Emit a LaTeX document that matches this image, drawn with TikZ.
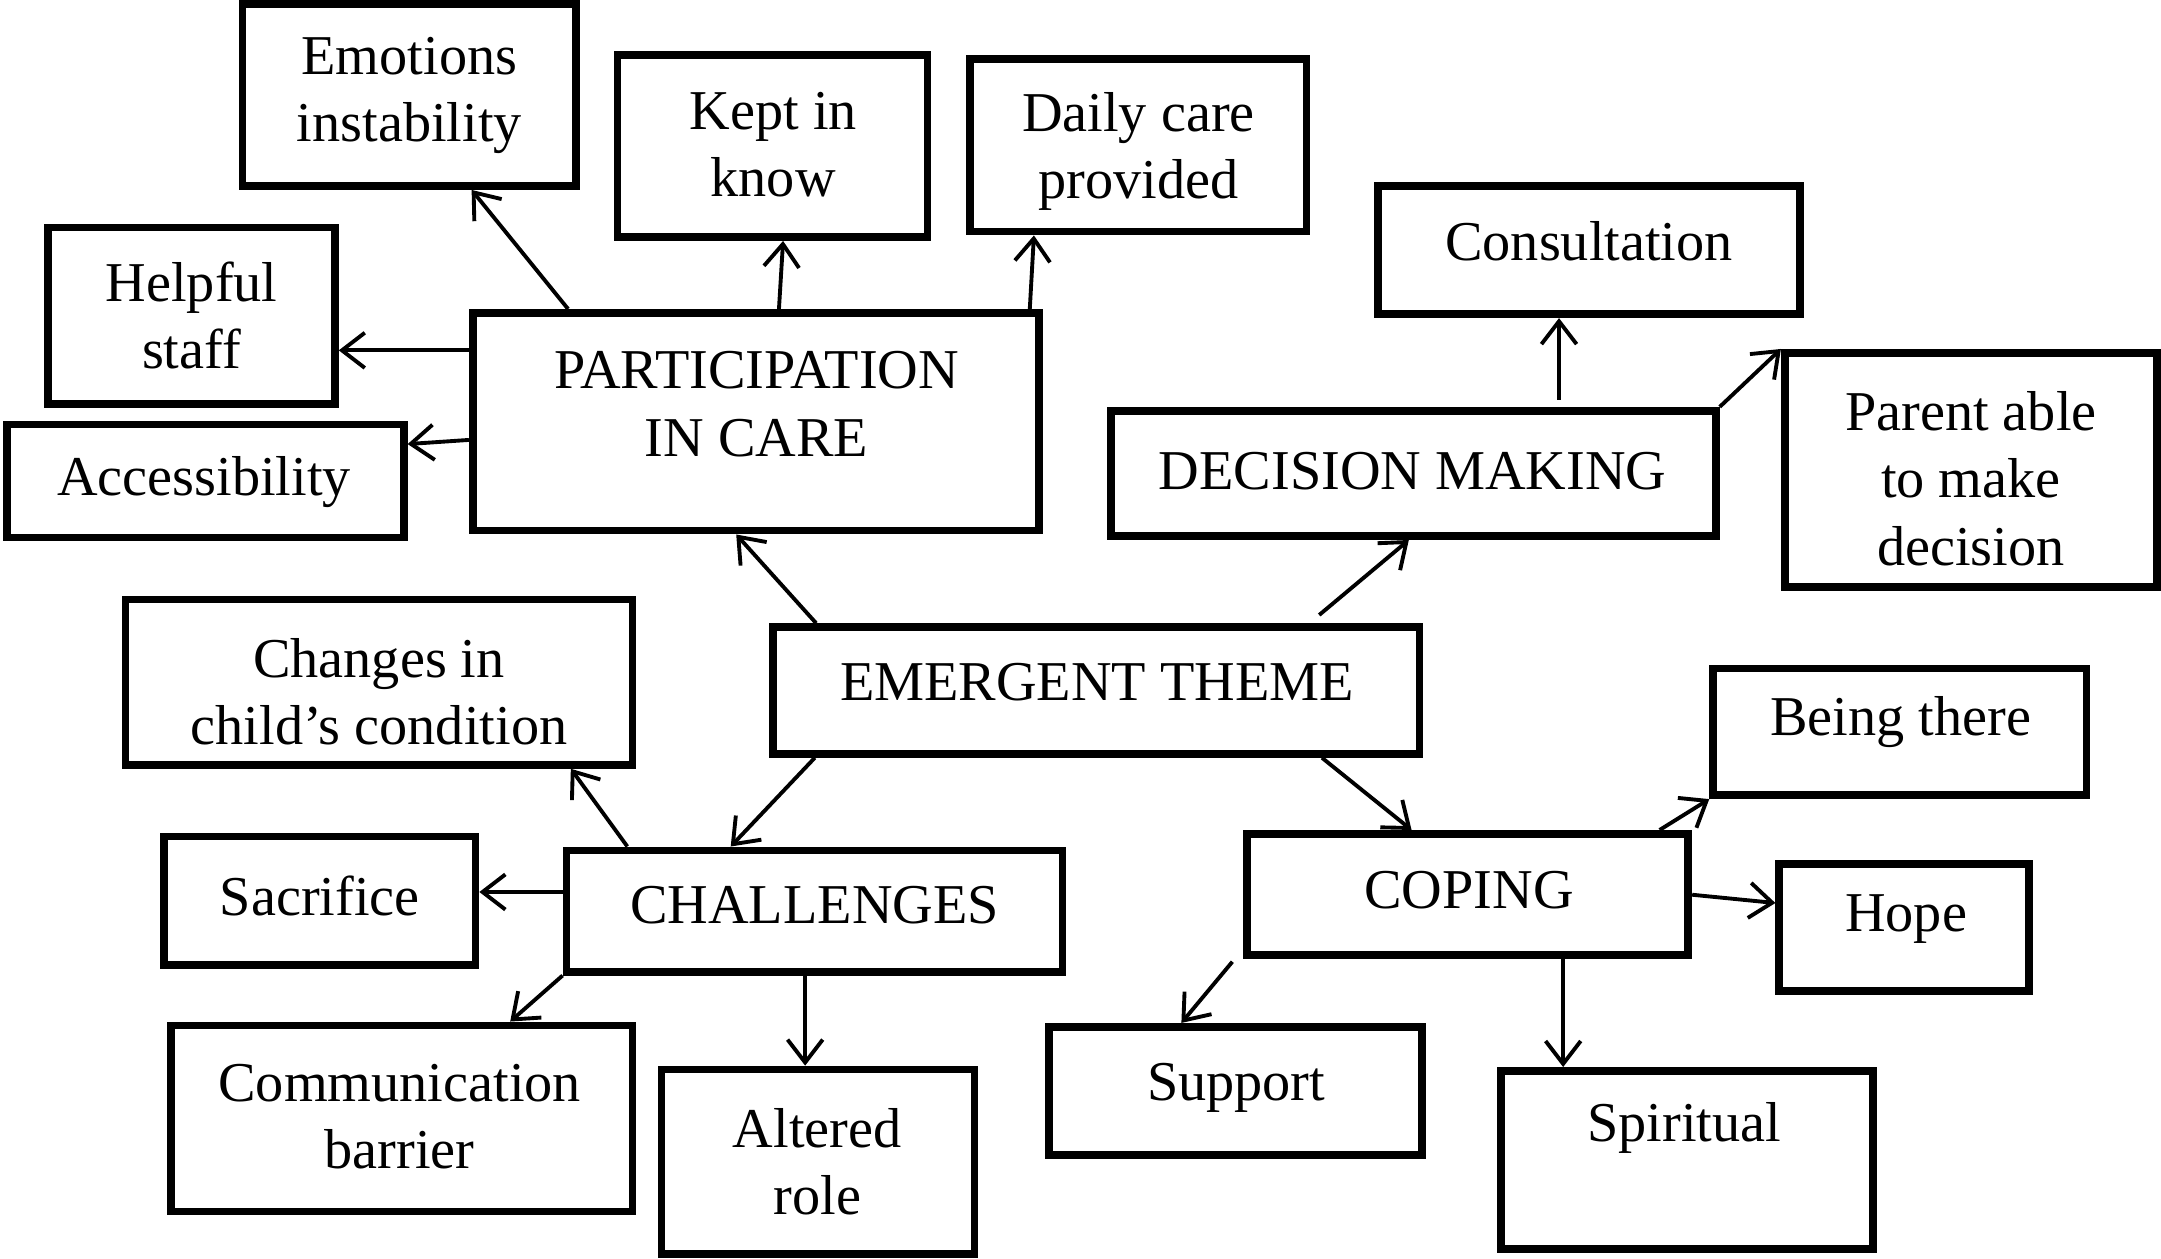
\documentclass[tikz,border=0pt]{standalone}
\usepackage{fontspec}
\setmainfont{Liberation Serif}
\usetikzlibrary{arrows.meta,fit,calc}
\newcommand\mybox[8]{\node[box, fit={(#2,#3) (#4,#5)}] (#1) {};\node[lbl] (t#1) at (#6,#7) {#8};}
\begin{document}
\begin{tikzpicture}[x=0.01378cm,y=-0.01378cm,
 box/.style={draw, line width=2.2pt, inner sep=0pt},
 lbl/.style={font=\fontsize{16}{19.2}\selectfont, align=center, inner sep=0pt, yshift=-1.2pt},
 arr/.style={line width=1.1pt, -{Straight Barb[length=6.5pt,width=10pt,line width=1.1pt]}}]
\useasboundingbox (0,0) rectangle (1568,913);

\mybox{emo}{176}{3}{418}{135}{297}{66}{Emotions\\instability}
\mybox{kept}{448}{40}{673}{172}{561}{102}{Kept in\\know}
\mybox{daily}{704}{43}{948}{168}{826}{107}{Daily care\\provided}
\mybox{help}{35}{165}{243}{293}{139}{226}{Helpful\\staff}
\mybox{part}{343}{227}{754}{385}{549}{290}{PARTICIPATION\\IN CARE}
\mybox{acc}{5}{308}{293}{390}{148}{347}{Accessibility}
\mybox{cons}{1000}{135}{1306}{228}{1153}{172}{Consultation}
\mybox{dec}{806}{298}{1245}{389}{1025}{339}{DECISION MAKING}
\mybox{par}{1295}{256}{1565}{426}{1430}{344}{Parent able\\to make\\decision}
\mybox{chg}{91}{435}{459}{555}{275}{499}{Changes in\\child’s condition}
\mybox{emer}{561}{455}{1030}{547}{796}{492}{EMERGENT THEME}
\mybox{being}{1243}{485}{1514}{577}{1379}{521}{Being there}
\mybox{sac}{119}{607}{345}{700}{232}{647}{Sacrifice}
\mybox{chal}{411}{617}{771}{705}{591}{654}{CHALLENGES}
\mybox{cop}{905}{605}{1225}{693}{1066}{643}{COPING}
\mybox{hope}{1291}{627}{1472}{719}{1383}{664}{Hope}
\mybox{comm}{124}{744}{459}{879}{290}{807}{Communication\\barrier}
\mybox{alt}{480}{776}{707}{910}{593}{840}{Altered\\role}
\mybox{sup}{761}{745}{1032}{838}{897}{786}{Support}
\mybox{spi}{1089}{777}{1359}{906}{1222}{815}{Spiritual}

\draw[arr] ($(part.north west)+(72,0)$) -- ($(emo.south west)+(169,0)$);
\draw[arr] ($(part.north west)+(225,0)$) -- ($(kept.south west)+(123,0)$);
\draw[arr] ($(part.north west)+(407,0)$) -- ($(daily.south west)+(49,0)$);
\draw[arr] ($(part.north west)+(0,30)$) -- ($(help.north east)+(0,92)$);
\draw[arr] ($(part.north west)+(0,95)$) -- ($(acc.north east)+(0,17)$);
\draw[arr] ($(emer.north west)+(34,0)$) -- ($(part.south west)+(194,0)$);
\draw[arr] ($(emer.north west)+(399,-6)$) -- ($(dec.south west)+(219,0)$);
\draw[arr] ($(dec.north west)+(328,-5)$) -- ($(cons.south west)+(134,0)$);
\draw[arr] (dec.north east) -- (par.north west);
\draw[arr] ($(emer.south west)+(33,0)$) -- ($(chal.north west)+(122,0)$);
\draw[arr] ($(emer.south west)+(401,0)$) -- ($(cop.north west)+(122,0)$);
\draw[arr] ($(chal.north west)+(47,0)$) -- ($(chg.south west)+(326,0)$);
\draw[arr] ($(chal.north west)+(0,33)$) -- ($(sac.north east)+(0,43)$);
\draw[arr] (chal.south west) -- ($(comm.north west)+(249,0)$);
\draw[arr] ($(chal.south west)+(176,0)$) -- ($(alt.north west)+(107,0)$);
\draw[arr] ($(cop.north west)+(302,0)$) -- (being.south west);
\draw[arr] ($(cop.north east)+(0,47)$) -- ($(hope.north west)+(0,31)$);
\draw[arr] ($(cop.south west)+(-8,2)$) -- ($(sup.north west)+(99,0)$);
\draw[arr] ($(cop.south west)+(232,0)$) -- ($(spi.north west)+(48,0)$);
\end{tikzpicture}
\end{document}
